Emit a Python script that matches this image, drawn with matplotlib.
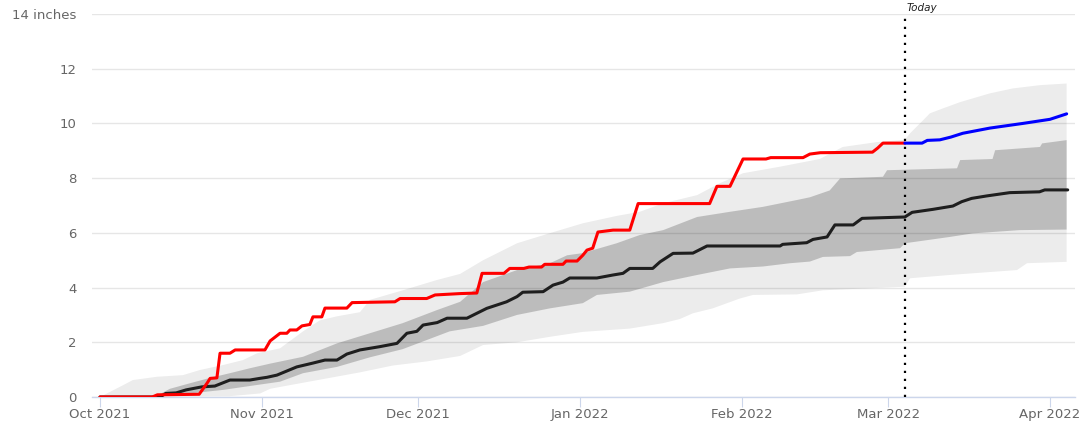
import numpy as np
import pandas as pd
import matplotlib
matplotlib.use("Agg")
import matplotlib.pyplot as plt
import matplotlib.dates as mdates

# season start, all x values below are days after this date
season_start = pd.Timestamp("2021-10-01")
today_day = 154.2

# this season so far (red)
red_days = [0, 10, 11, 19, 20.5, 21.1, 22.4, 23, 24.9, 25.9, 31.6, 32.6, 34.5, 35.8, 36.4,
            37.7, 38.7, 40.2, 40.8, 42.5, 43.1, 47.3, 48.3, 56.5, 57.5, 62.6, 64.2, 69, 72.2,
            73.2, 77.4, 78.5, 81.2, 82.2, 84.6, 85.2, 88.7, 89.3, 91.4, 92.5, 93.3, 94.4, 95.4,
            98.3, 101.5, 103.1, 116.8, 118.2, 120.7, 123.2, 127.6, 128.5, 134.7, 136, 138, 148,
            149, 150, 154.2]
red_vals = [0, 0, 0.08, 0.1, 0.5, 0.68, 0.7, 1.6, 1.6, 1.72, 1.72, 2.05, 2.33, 2.33, 2.45,
            2.45, 2.6, 2.65, 2.93, 2.93, 3.25, 3.25, 3.45, 3.48, 3.6, 3.6, 3.73, 3.78, 3.8,
            4.52, 4.52, 4.7, 4.7, 4.75, 4.75, 4.85, 4.85, 4.97, 4.97, 5.18, 5.37, 5.44, 6.03,
            6.1, 6.1, 7.07, 7.07, 7.7, 7.7, 8.7, 8.7, 8.75, 8.75, 8.88, 8.93, 8.95,
            9.1, 9.28, 9.28]

# forecast from today (blue)
blue_days = [154.2, 157.5, 158.5, 160.9, 163, 165.3, 170.5, 176.8, 182, 185.2]
blue_vals = [9.28, 9.28, 9.38, 9.4, 9.5, 9.64, 9.83, 10.0, 10.15, 10.35]

# median season (black)
med_days = [0, 11.5, 12.6, 14.6, 16.5, 19.5, 22, 24.9, 28.7, 30.6, 32, 33.9, 35.8, 37.7, 40.8,
            43.1, 45.4, 47.3, 49.8, 53.6, 56.9, 58.8, 60.7, 61.9, 64.6, 66.5, 70.3, 72.2, 74.1,
            76, 77.9, 79.9, 81, 84.9, 86.8, 88.7, 90, 95.2, 98.3, 100.2, 101.5, 105.9, 107.3,
            109.8, 113.6, 116.3, 130.3, 130.8, 135.4, 136.6, 139.3, 140.8, 144.3, 146, 154.2,
            155.6, 159.6, 163.4, 165.1, 167, 169.9, 174.3, 180, 181, 185.4]
med_vals = [0, 0, 0.13, 0.15, 0.26, 0.37, 0.4, 0.62, 0.62, 0.68, 0.72, 0.8, 0.95, 1.1, 1.24,
            1.35, 1.35, 1.57, 1.72, 1.84, 1.96, 2.33, 2.4, 2.63, 2.72, 2.88, 2.88, 3.06, 3.24,
            3.36, 3.48, 3.67, 3.83, 3.85, 4.09, 4.2, 4.35, 4.35, 4.46, 4.52, 4.7, 4.7, 4.94,
            5.25, 5.26, 5.52, 5.52, 5.58, 5.64, 5.76, 5.85, 6.29, 6.29, 6.53, 6.58,
            6.75, 6.86, 6.98, 7.14, 7.26, 7.35, 7.47, 7.5, 7.57, 7.57]

# outer range (light grey band)
outer_hi_days = [0, 4.4, 6.3, 10.9, 15.9, 19.2, 23.6, 27.4, 30.1, 34.5, 38.9, 42.1, 45.4, 49.8,
                 51.7, 58, 64.6, 69, 73.4, 79.9, 86.2, 92.5, 99, 103.4, 107.9, 114.4, 118.8,
                 123.2, 130.3, 137.9, 142.3, 148.9, 154.2, 155.2, 157.1, 159, 161.5, 164.8,
                 170.5, 174.9, 180.1, 185.2]
outer_hi_vals = [0, 0.43, 0.62, 0.74, 0.8, 0.99, 1.17, 1.35, 1.6, 1.78, 2.4, 2.8, 2.95, 3.1,
                 3.55, 3.9, 4.28, 4.5, 5.0, 5.62, 5.99, 6.35, 6.62, 6.77, 7.08, 7.38, 7.82,
                 8.18, 8.42, 8.7, 9.14, 9.32, 9.4, 9.64, 10.0, 10.37, 10.55, 10.78,
                 11.1, 11.28, 11.4, 11.46]
outer_lo_days = [0, 24.9, 30.7, 32.6, 38.3, 49.8, 56.1, 62.6, 69, 73.4, 79.9, 86.2, 92.5, 101.5,
                 107.9, 111.1, 113.6, 117.4, 122.6, 125.1, 133.5, 138.5, 154.2, 155.2, 162.8,
                 175.7, 177.6, 185.2]
outer_lo_vals = [0, 0.03, 0.13, 0.3, 0.5, 0.9, 1.15, 1.3, 1.5, 1.9, 2.0, 2.2, 2.38, 2.5,
                 2.7, 2.85, 3.06, 3.24, 3.6, 3.73, 3.75, 3.9, 4.03, 4.34, 4.46,
                 4.64, 4.89, 4.94]

# inner range (dark grey band)
inner_hi_days = [10.9, 13.4, 17.2, 21.1, 24.9, 28.7, 32.6, 38.9, 45.4, 51.7, 58, 64.6, 69, 73.4,
                 79.9, 86.2, 89.5, 92.5, 99, 103.4, 107.9, 114.4, 120.7, 127, 133.5, 136,
                 139.8, 141.8, 150, 150.8, 164.2, 164.8, 171, 171.5, 180.1, 180.5, 185.2]
inner_hi_vals = [0.05, 0.3, 0.5, 0.7, 0.87, 1.05, 1.22, 1.47, 1.96, 2.33, 2.7, 3.18, 3.48, 4.2,
                 4.64, 4.89, 5.18, 5.26, 5.62, 5.92, 6.1, 6.58, 6.77, 6.95, 7.2, 7.3,
                 7.55, 7.99, 8.05, 8.29, 8.36, 8.66, 8.7, 9.02, 9.14, 9.27, 9.39]
inner_lo_days = [10.9, 17.2, 23.6, 30.1, 34.5, 38.9, 45.4, 51.7, 58, 67, 73.4, 79.9, 86.2, 92.5,
                 95.2, 101.5, 107.9, 114.4, 120.7, 127, 132.2, 136, 138.5, 143.7, 145, 153.3,
                 154.2, 162.8, 167.2, 176.2, 185.2]
inner_lo_vals = [0.0, 0.13, 0.26, 0.44, 0.56, 0.87, 1.1, 1.45, 1.75, 2.4, 2.6, 3.0, 3.24, 3.43,
                 3.73, 3.85, 4.2, 4.46, 4.7, 4.77, 4.89, 4.95, 5.12, 5.15, 5.3, 5.44,
                 5.62, 5.85, 5.98, 6.1, 6.12]

y_ticks = [0, 2, 4, 6, 8, 10, 12, 14]
y_labels = ["0", "2", "4", "6", "8", "10", "12", "14 inches"]


def to_num(days):
    return mdates.date2num(season_start + pd.to_timedelta(np.asarray(days), unit="D"))


def main():
    plt.rcParams["font.family"] = ["DejaVu Sans"]
    fig = plt.figure(figsize=(10.79, 4.26), dpi=100)
    ax = fig.add_axes([92 / 1079, 29 / 426, 983 / 1079, 383 / 426])

    for y in y_ticks:
        ax.axhline(y, color="#e6e6e6", lw=1, zorder=0)

    # bands as polygons: upper edge forward, lower edge back
    ax.fill(np.r_[to_num(outer_hi_days), to_num(outer_lo_days)[::-1]],
            np.r_[outer_hi_vals, outer_lo_vals[::-1]],
            color="black", alpha=0.075, lw=0, zorder=1)
    ax.fill(np.r_[to_num(inner_hi_days), to_num(inner_lo_days)[::-1]],
            np.r_[inner_hi_vals, inner_lo_vals[::-1]],
            color="black", alpha=0.2, lw=0, zorder=2)

    ax.plot(to_num(med_days), med_vals, color="#1e1e1e", lw=2.2, zorder=4,
            solid_joinstyle="round", solid_capstyle="round")
    ax.plot(to_num(red_days), red_vals, color="#ff0000", lw=2.2, zorder=5,
            solid_joinstyle="round", solid_capstyle="round")
    ax.plot(to_num(blue_days), blue_vals, color="#0000ff", lw=2.2, zorder=5,
            solid_joinstyle="round", solid_capstyle="round")

    tx = to_num([today_day])[0]
    ax.plot([tx, tx], [0, 14], color="black", lw=1.6, linestyle=(0, (1, 2.6)),
            zorder=6, clip_on=False)
    ax.annotate("Today", xy=(tx, 14), xytext=(1.5, 0.5), textcoords="offset points",
                fontsize=7.5, style="italic", color="#222222", ha="left", va="bottom",
                annotation_clip=False)

    ax.set_xlim(to_num([-1.53])[0], to_num([186.8])[0])
    ax.set_ylim(0, 14)

    ax.set_yticks(y_ticks)
    ax.set_yticklabels(y_labels)
    ax.xaxis.set_major_locator(mdates.MonthLocator())
    ax.xaxis.set_major_formatter(mdates.DateFormatter("%b %Y"))

    for s in ["top", "right", "left"]:
        ax.spines[s].set_visible(False)
    ax.spines["bottom"].set_color("#ccd6eb")
    ax.spines["bottom"].set_linewidth(1)
    ax.spines["bottom"].set_zorder(3)

    ax.tick_params(axis="y", length=0, pad=11, labelsize=9.5, labelcolor="#666666")
    ax.tick_params(axis="x", length=7.2, width=0.8, color="#ccd6eb", pad=1,
                   labelsize=9.5, labelcolor="#666666")

    fig.savefig("out.png", dpi=100)


if __name__ == "__main__":
    main()
